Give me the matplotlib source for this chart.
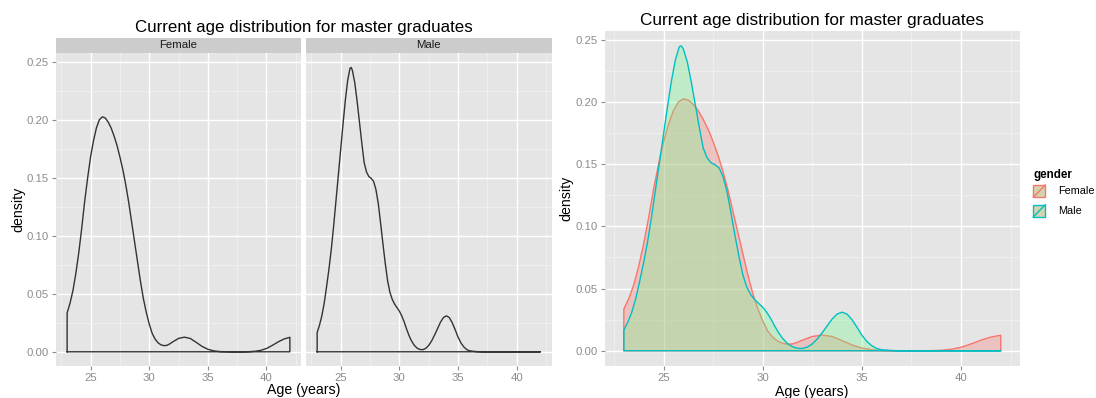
import matplotlib
matplotlib.use("Agg")
import matplotlib.pyplot as plt
from matplotlib.patches import Rectangle
from matplotlib.lines import Line2D

plt.rcParams['font.family'] = ['Liberation Sans', 'DejaVu Sans']

# density curves (age in years, density)
female_age = [23.0, 23.25, 23.5, 23.75, 24.0, 24.25, 24.5, 24.75, 25.0, 25.25,
              25.5, 25.75, 26.0, 26.25, 26.5, 26.75, 27.0, 27.25, 27.5, 27.75,
              28.0, 28.25, 28.5, 28.75, 29.0, 29.25, 29.5, 29.75, 30.0, 30.25,
              30.5, 30.75, 31.0, 31.25, 31.5, 31.75, 32.0, 32.5, 33.0, 33.5,
              34.0, 34.5, 35.0, 35.5, 36.0, 37.0, 38.0, 38.5, 39.0, 39.5,
              40.0, 40.5, 41.0, 41.5, 42.0]
female_density = [0.0335, 0.042, 0.053, 0.068, 0.086, 0.107, 0.130, 0.150, 0.168, 0.182,
                  0.193, 0.200, 0.2025, 0.2015, 0.198, 0.193, 0.186, 0.178, 0.168, 0.157,
                  0.144, 0.129, 0.112, 0.095, 0.078, 0.061, 0.046, 0.034, 0.024, 0.016,
                  0.011, 0.0078, 0.0060, 0.0053, 0.0055, 0.0068, 0.0085, 0.0115, 0.0126, 0.0115,
                  0.0082, 0.0047, 0.0022, 0.0008, 0.0002, 0.0, 0.0, 0.0001, 0.0004, 0.0012,
                  0.0028, 0.0055, 0.0085, 0.0110, 0.0125]

male_age = [23.0, 23.2, 23.4, 23.6, 23.8, 24.0, 24.2, 24.4, 24.6, 24.8,
            25.0, 25.2, 25.4, 25.6, 25.8, 25.9, 26.0, 26.2, 26.4, 26.6,
            26.8, 27.0, 27.2, 27.4, 27.6, 27.8, 28.0, 28.2, 28.4, 28.6,
            28.8, 29.0, 29.2, 29.4, 29.6, 29.8, 30.0, 30.2, 30.4, 30.6,
            30.8, 31.0, 31.25, 31.5, 31.75, 32.0, 32.25, 32.5, 32.75, 33.0,
            33.25, 33.5, 33.75, 34.0, 34.25, 34.5, 34.75, 35.0, 35.25, 35.5,
            35.75, 36.0, 36.5, 37.0, 42.0]
male_density = [0.0166, 0.023, 0.031, 0.042, 0.056, 0.071, 0.088, 0.108, 0.130, 0.152,
                 0.174, 0.196, 0.217, 0.234, 0.2445, 0.2450, 0.2425, 0.232, 0.216, 0.198,
                 0.180, 0.163, 0.155, 0.151, 0.1495, 0.147, 0.140, 0.128, 0.111, 0.093,
                 0.076, 0.061, 0.051, 0.045, 0.041, 0.038, 0.035, 0.031, 0.026, 0.020,
                 0.0145, 0.0100, 0.0058, 0.0032, 0.0020, 0.0018, 0.0030, 0.0055, 0.0095, 0.0145,
                 0.020, 0.0255, 0.0295, 0.0310, 0.0295, 0.025, 0.019, 0.0125, 0.0075, 0.0040,
                 0.0018, 0.0008, 0.0002, 0.0, 0.0]

genders = ["Female", "Male"]
x_ticks = [25, 30, 35, 40]
y_ticks = [0.00, 0.05, 0.10, 0.15, 0.20, 0.25]
x_minor = [22.5, 27.5, 32.5, 37.5, 42.5]
y_minor = [0.025, 0.075, 0.125, 0.175, 0.225]

W, H = 1096, 398
fig = plt.figure(figsize=(W / 100, H / 100), dpi=100)


def box(x0, y0, x1, y1):
    # pixel box (top-left origin) to figure fractions
    return [x0 / W, 1 - y1 / H, (x1 - x0) / W, (y1 - y0) / H]


def gg_axes(rect, show_y=True):
    ax = fig.add_axes(rect)
    ax.set_facecolor("#E5E5E5")
    for s in ax.spines.values():
        s.set_visible(False)
    ax.set_xlim(22.05, 42.95)
    ax.set_ylim(-0.01225, 0.25725)
    ax.set_xticks(x_ticks)
    ax.set_xticklabels([str(t) for t in x_ticks])
    ax.set_yticks(y_ticks)
    ax.set_yticklabels(["%.2f" % t for t in y_ticks])
    ax.set_xticks(x_minor, minor=True)
    ax.set_yticks(y_minor, minor=True)
    ax.grid(which="major", color="white", linewidth=1.0)
    ax.grid(which="minor", color="#F2F2F2", linewidth=0.5)
    ax.set_axisbelow(True)
    ax.tick_params(which="major", length=3, width=0.8, color="#8C8C8C",
                   labelcolor="#8C8C8C", labelsize=8.2, pad=2)
    ax.tick_params(which="minor", length=0)
    if not show_y:
        ax.tick_params(axis="y", which="both", left=False, labelleft=False)
    return ax


def closed(xs, ys):
    return [xs[0]] + list(xs) + [xs[-1], xs[0]], [0] + list(ys) + [0, 0]


# ---- left figure: faceted densities ----
curves = {"Female": (female_age, female_density), "Male": (male_age, male_density)}
facet_boxes = [box(56, 53.3, 301, 366), box(306, 53.3, 551.5, 366)]
for i, g in enumerate(genders):
    ax = gg_axes(facet_boxes[i], show_y=(i == 0))
    px, py = closed(*curves[g])
    ax.plot(px, py, color="#333333", linewidth=1.0, solid_joinstyle="round")
    strip_h = 15.6 / 312.7
    ax.add_patch(Rectangle((0, 1), 1, strip_h, transform=ax.transAxes,
                           facecolor="#CCCCCC", edgecolor="none", clip_on=False))
    ax.text(0.5, 1 + strip_h / 2, g, transform=ax.transAxes, ha="center",
            va="center", fontsize=8.2, color="#1A1A1A")

fig.text(303.5 / W, 1 - 27.3 / H, "Current age distribution for master graduates",
         ha="center", va="center", fontsize=12.2)
fig.text(303.7 / W, 1 - 390 / H, "Age (years)", ha="center", va="center", fontsize=10.2)
fig.text(18 / W, 1 - 209.7 / H, "density", ha="center", va="center",
         rotation=90, fontsize=10.2)

# ---- right figure: overlaid densities ----
ax = gg_axes(box(605, 30.7, 1019.6, 366))
fill_cols = {"Female": (0.973, 0.463, 0.427, 0.3), "Male": (0.42, 0.99, 0.52, 0.3)}
line_cols = {"Female": "#F8766D", "Male": "#00BFC4"}
for g in genders:
    px, py = closed(*curves[g])
    ax.fill(px, py, facecolor=fill_cols[g], edgecolor=line_cols[g], linewidth=1.0,
            joinstyle="round")

fig.text(812 / W, 1 - 20.7 / H, "Current age distribution for master graduates",
         ha="center", va="center", fontsize=12.4)
fig.text(812 / W, 1 - 392 / H, "Age (years)", ha="center", va="center", fontsize=10.2)
fig.text(566.7 / W, 1 - 198 / H, "density", ha="center", va="center",
         rotation=90, fontsize=10.2)

# legend
fig.text(1033 / W, 1 - 175 / H, "gender", ha="left", va="center",
         fontsize=8.4, fontweight="bold")
for i, g in enumerate(genders):
    y0 = 185 + i * 19.7
    x0, x1, y1 = 1033.3, 1045.3, y0 + 12.3
    fig.add_artist(Rectangle((x0 / W, 1 - y1 / H), 12 / W, 12.3 / H,
                             transform=fig.transFigure, facecolor="#D3D4AE",
                             edgecolor=line_cols[g], linewidth=1.0))
    fig.add_artist(Line2D([x0 / W, x1 / W], [1 - y1 / H, 1 - y0 / H],
                          transform=fig.transFigure, color=line_cols[g], linewidth=1.0))
    fig.text(1058 / W, 1 - (y0 + 6) / H, g, ha="left", va="center", fontsize=7.8)

fig.savefig("out.png", dpi=100)
